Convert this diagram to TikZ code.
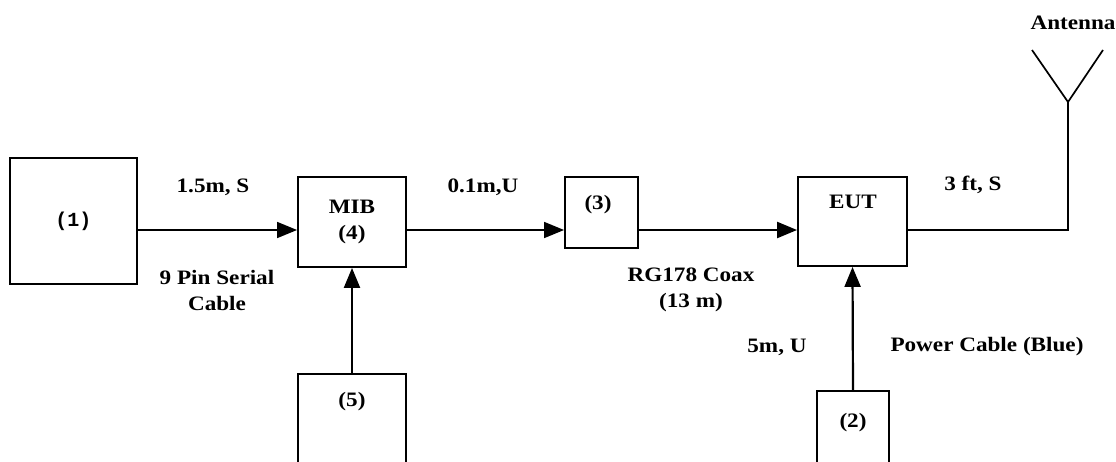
\documentclass[tikz,border=0pt]{standalone}
\usepackage{fontspec}
\setmainfont{Liberation Serif}
\newfontfamily\lblfont[FakeStretch=1.13,UprightFont=* Bold]{Liberation Serif}
\newfontfamily\monofont[UprightFont=* Bold]{Liberation Mono}
\usetikzlibrary{arrows.meta}
\begin{document}
\begin{tikzpicture}[x=1pt,y=-1pt,
  box/.style={draw,line width=1.9pt,minimum width=#1,inner sep=0pt},
  lbl/.style={font=\lblfont\fontsize{20.5}{23}\selectfont,inner sep=0pt,align=center},
  mono/.style={font=\monofont\fontsize{20}{22}\selectfont,inner sep=0pt},
  wire/.style={line width=1.7pt},
  arr/.style={wire,-{Triangle[length=20pt,width=16pt]}}]
\useasboundingbox (0,0) rectangle (1116,461);
% boxes
\node[box=127pt,minimum height=126pt] (b1) at (73.5,221) {};
\node[box=108pt,minimum height=90pt] (mib) at (352,222) {};
\node[box=73pt,minimum height=71pt] (b3) at (601.5,212.5) {};
\node[box=109pt,minimum height=89pt] (eut) at (852.5,221.5) {};
\node[box=108pt,minimum height=130pt] (b5) at (352,439) {};
\node[box=72pt,minimum height=110pt] (b2) at (853,446) {};
% box texts
\node[mono] (t1) at (73.5,221) {(1)};
\node[lbl] (tmib) at (352,207) {MIB};
\node[lbl] (t4) at (352,235) {(4)};
\node[lbl] (t3) at (598,205) {(3)};
\node[lbl] (teut) at (853,202) {EUT};
\node[lbl] (t5) at (352,402) {(5)};
\node[lbl] (t2) at (853,423) {(2)};
% connectors
\coordinate (row) at (0,230);
\coordinate (ant) at (1068,102);
\coordinate (armL) at (1032,50);
\coordinate (armR) at (1103,50);
\draw[arr] (b1.east |- row) -- (mib.west |- row);
\draw[arr] (mib.east |- row) -- (b3.west |- row);
\draw[arr,line width=2.3pt] (b3.east |- row) -- (eut.west |- row);
\draw[arr,line width=2.2pt] (b5.north) -- (mib.south);
\draw[arr,line width=2.2pt] (b2.north) -- (eut.south);
\draw[wire] (eut.east |- row) -| (ant);
\draw[wire] (armL) -- (ant) -- (armR);
% labels
\node[lbl] (l1) at (213,187) {1.5m, S};
\node[lbl] (l2) at (217,290) {9 Pin Serial\\[3pt]Cable};
\node[lbl] (l3) at (483,187) {0.1m,U};
\node[lbl] (l4) at (691,290) {RG178 Coax\\[3pt](13 m)};
\node[lbl] (l5) at (777,347) {5m, U};
\node[lbl] (l6) at (987,347) {Power Cable (Blue)};
\node[lbl] (l7) at (973,185) {3 ft, S};
\node[lbl] (l8) at (1073,23) {Antenna};
\end{tikzpicture}
\end{document}
